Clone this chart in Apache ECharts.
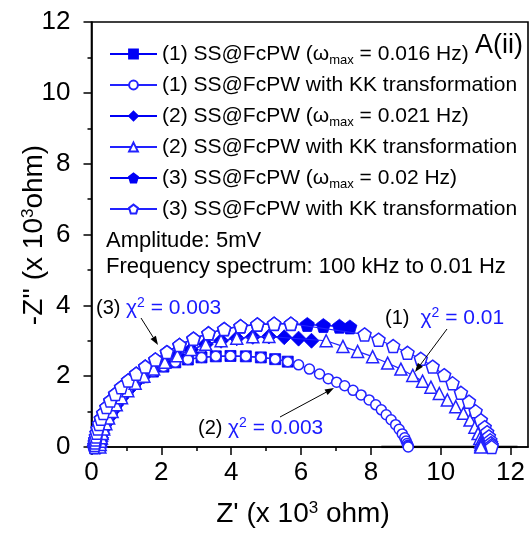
<!DOCTYPE html>
<html>
<head>
<meta charset="utf-8">
<script src="https://cdn.jsdelivr.net/npm/echarts@6/dist/echarts.min.js"></script>
<style>
  html, body { margin: 0; padding: 0; background: #fff; }
  #chart { width: 531px; height: 533px; }
</style>
</head>
<body>
<div id="chart"></div>
<script>
// Nyquist plots of SS@FcPW: measured impedance and Kramers-Kronig transformed data (units: 10^3 ohm)

// (1) measured, omega_max = 0.016 Hz
const s1Data = [
  [0.22,0.00],[0.23,0.06],[0.25,0.14],[0.27,0.24],[0.30,0.36],[0.34,0.50],[0.40,0.66],[0.48,0.84],
  [0.58,1.02],[0.70,1.21],[0.85,1.40],[1.03,1.60],[1.24,1.79],[1.48,1.97],[1.76,2.13],[2.06,2.27],
  [2.40,2.39],[2.76,2.47],[3.15,2.53],[3.56,2.56],[3.98,2.57],[4.42,2.56],[4.85,2.53],[5.26,2.48],[5.62,2.41]
];
// (1) KK transformation
const s2Data = [
  [0.22,0.00],[0.23,0.06],[0.25,0.14],[0.27,0.24],[0.30,0.36],[0.34,0.50],[0.40,0.66],[0.48,0.84],
  [0.58,1.02],[0.70,1.21],[0.85,1.40],[1.03,1.60],[1.24,1.79],[1.48,1.97],[1.76,2.13],[2.06,2.27],
  [2.40,2.39],[2.76,2.47],[3.15,2.53],[3.56,2.56],[3.98,2.57],[4.42,2.56],[4.85,2.53],[5.26,2.48],[5.62,2.41],
  [5.93,2.32],[6.24,2.20],[6.53,2.06],[6.78,1.93],[7.02,1.83],[7.25,1.73],[7.49,1.60],[7.72,1.47],
  [7.95,1.33],[8.14,1.19],[8.30,1.05],[8.44,0.91],[8.58,0.77],[8.71,0.63],[8.81,0.50],[8.90,0.37],
  [8.97,0.26],[9.01,0.17],[9.04,0.10],[9.06,0.05],[9.07,0.02],[9.07,0.00]
];
// (2) measured, omega_max = 0.021 Hz
const s3Data = [
  [0.24,0.00],[0.25,0.07],[0.26,0.16],[0.28,0.26],[0.31,0.38],[0.35,0.51],[0.41,0.66],[0.49,0.82],
  [0.59,1.00],[0.71,1.19],[0.86,1.39],[1.04,1.59],[1.25,1.80],[1.50,2.00],[1.78,2.20],[2.10,2.39],
  [2.46,2.58],[2.85,2.75],[3.27,2.90],[3.71,3.00],[4.16,3.07],[4.62,3.11],[5.08,3.12],[5.52,3.10],
  [5.93,3.06],[6.30,3.00]
];
// (2) KK transformation
const s4Data = [
  [0.24,0.00],[0.25,0.07],[0.26,0.16],[0.28,0.26],[0.31,0.38],[0.35,0.51],[0.41,0.66],[0.49,0.82],
  [0.59,1.00],[0.71,1.19],[0.86,1.39],[1.04,1.59],[1.25,1.80],[1.50,2.00],[1.78,2.20],[2.10,2.39],
  [2.46,2.58],[2.85,2.75],[3.27,2.90],[3.71,3.00],[4.16,3.07],[4.62,3.11],[5.08,3.12],
  [6.72,3.00],[7.20,2.84],[7.62,2.70],[8.05,2.55],[8.48,2.37],[8.86,2.20],[9.20,2.02],[9.48,1.86],
  [9.72,1.69],[9.96,1.51],[10.19,1.33],[10.43,1.14],[10.65,0.95],[10.84,0.76],[10.98,0.56],
  [11.07,0.38],[11.12,0.24],[11.14,0.14],[11.15,0.07],[11.15,0.02],[11.15,0.00]
];
// (3) measured, omega_max = 0.02 Hz
const s5Data = [
  [0.08,0.00],[0.09,0.06],[0.10,0.13],[0.11,0.21],[0.13,0.30],[0.15,0.40],[0.18,0.52],[0.22,0.65],
  [0.27,0.80],[0.34,0.96],[0.43,1.13],[0.54,1.31],[0.68,1.50],[0.85,1.69],[1.05,1.88],[1.28,2.07],
  [1.54,2.27],[1.83,2.47],[2.16,2.68],[2.52,2.88],[2.92,3.06],[3.35,3.21],[3.80,3.33],[4.27,3.41],
  [4.75,3.46],[5.23,3.48],[5.71,3.48],[6.18,3.46],[6.64,3.43],[7.10,3.41],[7.40,3.39]
];
// (3) KK transformation
const s6Data = [
  [0.08,0.00],[0.09,0.06],[0.10,0.13],[0.11,0.21],[0.13,0.30],[0.15,0.40],[0.18,0.52],[0.22,0.65],
  [0.27,0.80],[0.34,0.96],[0.43,1.13],[0.54,1.31],[0.68,1.50],[0.85,1.69],[1.05,1.88],[1.28,2.07],
  [1.54,2.27],[1.83,2.47],[2.16,2.68],[2.52,2.88],[2.92,3.06],[3.35,3.21],[3.80,3.33],[4.27,3.41],
  [4.75,3.46],[5.23,3.48],[5.71,3.48],
  [7.82,3.18],[8.22,3.03],[8.64,2.85],[9.05,2.66],[9.43,2.49],[9.77,2.27],[10.10,2.03],[10.34,1.80],
  [10.58,1.53],[10.81,1.28],[11.00,1.01],[11.15,0.76],[11.26,0.56],[11.33,0.42],[11.38,0.30],
  [11.42,0.19],[11.44,0.11],[11.46,0.05],[11.46,0.00]
];
// short dark segment lying on the Z' axis
const baseSegment = [[8.3,0],[12.2,0]];

const seriesNames = [
  '(1) SS@FcPW (ωmax = 0.016 Hz)',
  '(1) SS@FcPW with KK transformation',
  '(2) SS@FcPW (ωmax = 0.021 Hz)',
  '(2) SS@FcPW with KK transformation',
  '(3) SS@FcPW (ωmax = 0.02 Hz)',
  '(3) SS@FcPW with KK transformation'
];

const xMajorTicks = [0, 2, 4, 6, 8, 10, 12];
const xMinorTicks = [1, 3, 5, 7, 9, 11];
const yMajorTicks = [0, 2, 4, 6, 8, 10, 12];
const yMinorTicks = [1, 3, 5, 7, 9, 11];

const FONT = '"Liberation Sans", Arial, Helvetica, sans-serif';
const BLUE = '#0000f5';
const BLUE_OPEN = '#2222ff';
const PENTAGON = 'path://M0,-10L9.511,-3.09L5.878,8.09L-5.878,8.09L-9.511,-3.09Z';

function filledSeries(name, data, symbol, size) {
  return {
    name, type: 'line', data, symbol, symbolSize: size,
    itemStyle: { color: BLUE, borderColor: BLUE, borderWidth: 0.8 },
    lineStyle: { color: BLUE, width: 1.4 },
    emphasis: { disabled: true }, z: 3
  };
}
function openSeries(name, data, symbol, size) {
  return {
    name, type: 'line', data, symbol, symbolSize: size,
    itemStyle: { color: '#ffffff', borderColor: BLUE_OPEN, borderWidth: 1.5 },
    lineStyle: { color: BLUE_OPEN, width: 1.2 },
    emphasis: { disabled: true }, z: 4
  };
}

// annotation arrow: shaft plus filled head at (x2, y2)
function arrow(x1, y1, x2, y2) {
  const a = Math.atan2(y2 - y1, x2 - x1);
  const L = 9, W = 3.2;
  const bx = x2 - L * Math.cos(a), by = y2 - L * Math.sin(a);
  return [
    { type: 'line', shape: { x1, y1, x2: bx, y2: by }, style: { stroke: '#000', lineWidth: 1 }, z: 10 },
    { type: 'polygon', shape: { points: [
        [x2, y2],
        [bx + W * Math.sin(a), by - W * Math.cos(a)],
        [bx - W * Math.sin(a), by + W * Math.cos(a)]
      ] }, style: { fill: '#000' }, z: 10 }
  ];
}

const chiRich = {
  k: { fill: '#000', fontSize: 20, fontFamily: FONT, lineHeight: 24 },
  b: { fill: '#1a1aff', fontSize: 21, fontFamily: FONT, lineHeight: 24 },
  sup: { fill: '#1a1aff', fontSize: 14, fontFamily: FONT, lineHeight: 12, verticalAlign: 'top' }
};
const supRich = { sup: { fontSize: 17, fontFamily: FONT, fill: '#000', lineHeight: 14, verticalAlign: 'top' } };

const chart = echarts.init(document.getElementById('chart'), null, { renderer: 'canvas' });
chart.setOption({
  animation: false,
  backgroundColor: '#fff',
  grid: { left: 91.5, right: 3, top: 22, bottom: 86, show: true, borderColor: '#000', borderWidth: 1.6, backgroundColor: 'transparent' },
  xAxis: [
    {
      type: 'value', min: 0, max: 12.5,
      axisLine: { show: true, lineStyle: { color: '#000', width: 1.6 } },
      axisTick: { show: true, length: 8, inside: false, customValues: xMajorTicks, lineStyle: { color: '#000', width: 1.5 } },
      axisLabel: { customValues: xMajorTicks, fontSize: 26, color: '#000', fontFamily: FONT, margin: 13 },
      splitLine: { show: false }
    },
    {
      type: 'value', min: 0, max: 12.5, position: 'bottom',
      axisLine: { show: false },
      axisTick: { show: true, length: 4, inside: false, customValues: xMinorTicks, lineStyle: { color: '#000', width: 1.5 } },
      axisLabel: { show: false, customValues: xMinorTicks },
      splitLine: { show: false }
    }
  ],
  yAxis: [
    {
      type: 'value', min: 0, max: 12,
      axisLine: { show: true, lineStyle: { color: '#000', width: 1.6 } },
      axisTick: { show: true, length: 8, inside: false, customValues: yMajorTicks, lineStyle: { color: '#000', width: 1.5 } },
      axisLabel: { customValues: yMajorTicks, fontSize: 26, color: '#000', fontFamily: FONT, margin: 21 },
      splitLine: { show: false }
    },
    {
      type: 'value', min: 0, max: 12, position: 'left',
      axisLine: { show: false },
      axisTick: { show: true, length: 4, inside: false, customValues: yMinorTicks, lineStyle: { color: '#000', width: 1.5 } },
      axisLabel: { show: false, customValues: yMinorTicks },
      splitLine: { show: false }
    }
  ],
  legend: {
    data: seriesNames,
    orient: 'vertical', left: 104, top: 36,
    itemWidth: 47, itemHeight: 11, itemGap: 5,
    selectedMode: false,
    formatter: name => name.replace('ωmax', 'ω{sub|max}'),
    textStyle: {
      fontSize: 21, color: '#000', fontFamily: FONT, lineHeight: 26,
      rich: { sub: { fontSize: 13, color: '#000', fontFamily: FONT, lineHeight: 4, verticalAlign: 'bottom' } }
    }
  },
  series: [
    { name: 'baseline', type: 'line', data: baseSegment, symbol: 'none', lineStyle: { color: '#000', width: 2.4 }, z: 2, silent: true },
    filledSeries(seriesNames[0], s1Data, 'rect', 11),
    openSeries(seriesNames[1], s2Data, 'circle', 10),
    filledSeries(seriesNames[2], s3Data, 'diamond', 15),
    openSeries(seriesNames[3], s4Data, 'triangle', 12),
    filledSeries(seriesNames[4], s5Data, PENTAGON, 14),
    openSeries(seriesNames[5], s6Data, PENTAGON, 13)
  ],
  graphic: [
    { type: 'text', x: 523, y: 46, style: { text: 'A(ii)', fontSize: 27, fontFamily: FONT, fill: '#000', align: 'right', verticalAlign: 'middle' }, z: 10 },
    { type: 'text', x: 106, y: 241, style: { text: 'Amplitude: 5mV', fontSize: 22, fontFamily: FONT, fill: '#000', align: 'left', verticalAlign: 'middle' }, z: 10 },
    { type: 'text', x: 106, y: 267, style: { text: 'Frequency spectrum: 100 kHz to 0.01 Hz', fontSize: 22, fontFamily: FONT, fill: '#000', align: 'left', verticalAlign: 'middle' }, z: 10 },
    { type: 'text', x: 96, y: 308, style: { text: '{k|(3) }{b|χ}{sup|2}{b| = 0.003}', rich: chiRich, align: 'left', verticalAlign: 'middle' }, z: 10 },
    { type: 'text', x: 385, y: 318, style: { text: '{k|(1)  }{b|χ}{sup|2}{b| = 0.01}', rich: chiRich, align: 'left', verticalAlign: 'middle' }, z: 10 },
    { type: 'text', x: 198, y: 428, style: { text: '{k|(2) }{b|χ}{sup|2}{b| = 0.003}', rich: chiRich, align: 'left', verticalAlign: 'middle' }, z: 10 },
    ...arrow(141, 318, 158, 345),
    ...arrow(447, 329, 415, 372),
    ...arrow(280, 417, 334, 388),
    { type: 'text', x: 303, y: 514, style: {
        text: "Z' (x 10{sup|3} ohm)", fontSize: 28, fontFamily: FONT, fill: '#000', align: 'center', verticalAlign: 'middle', rich: supRich
      }, z: 10 },
    { type: 'text', x: 34, y: 235, rotation: Math.PI / 2, style: {
        text: "-Z'' (x 10{sup|3}ohm)", fontSize: 28, fontFamily: FONT, fill: '#000', align: 'center', verticalAlign: 'middle', rich: supRich
      }, z: 10 }
  ]
});
</script>
</body>
</html>
